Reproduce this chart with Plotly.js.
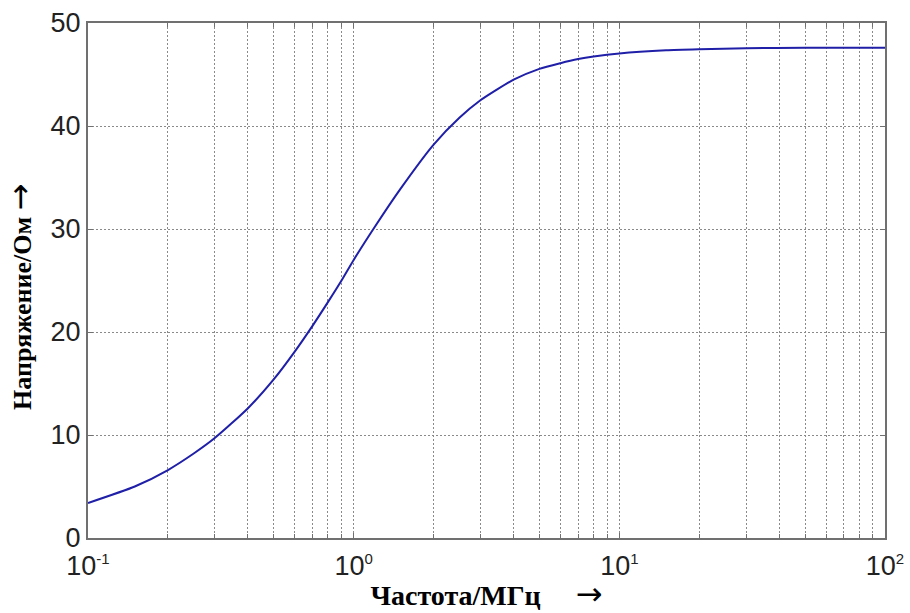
<!DOCTYPE html>
<html>
<head>
<meta charset="utf-8">
<script src="https://cdn.plot.ly/plotly-3.0.1.min.js"></script>
<style>html,body{margin:0;padding:0;background:#fff;}#chart{width:910px;height:613px;}</style>
</head>
<body>
<div id="chart"></div>
<script>
// Frequency, MHz
const freqMHz = [0.1, 0.15, 0.2, 0.25, 0.3, 0.4, 0.5, 0.6, 0.7, 0.8, 0.9, 1.0, 1.2, 1.5, 2.0, 2.5, 3.0, 4.0, 5.0, 6.0, 7.0, 8.0, 10, 15, 20, 30, 50, 100];
// Curve values (Напряжение/Ом)
const voltage = [3.4, 5.0, 6.6, 8.2, 9.7, 12.6, 15.4, 18.1, 20.6, 22.9, 25.0, 27.0, 30.2, 33.9, 38.2, 40.8, 42.5, 44.5, 45.55, 46.1, 46.5, 46.75, 47.05, 47.35, 47.45, 47.55, 47.6, 47.6];

// Tick positions and labels
const xTickVals = [0.1, 1, 10, 100];
const sup = s => '10<sup><span style="font-size:15px">' + s + '</span></sup>';
const xTickText = [sup('-1'), sup('0'), sup('1'), sup('2')];
const xMinorVals = [0.2,0.3,0.4,0.5,0.6,0.7,0.8,0.9,2,3,4,5,6,7,8,9,20,30,40,50,60,70,80,90];
const yTickVals = [0, 10, 20, 30, 40, 50];
const yTickText = ['0', '10', '20', '30', '40', '50'];

const arrow = '<span style="font-family:\'DejaVu Sans\';font-weight:normal;font-size:32px">→</span>';
const xTitle = 'Частота/МГц&nbsp;&nbsp;&nbsp;&nbsp;&nbsp;' + arrow;
const yTitle = 'Напряжение/Ом ' + arrow + '&nbsp;&nbsp;&nbsp;&nbsp;&nbsp;';

const trace = {
  x: freqMHz,
  y: voltage,
  type: 'scatter',
  mode: 'lines',
  line: {color: '#1f1fa8', width: 2, shape: 'spline', smoothing: 0.6},
  hoverinfo: 'x+y'
};

const gridColor = '#8a8a8a';
const gridDash = '1.5px,2.5px';
const axisCommon = {
  showline: true, linecolor: '#707070', linewidth: 2, mirror: 'allticks',
  ticks: 'inside', ticklen: 5, tickcolor: '#707070', tickwidth: 1,
  showgrid: true, gridcolor: gridColor, gridwidth: 1, griddash: gridDash,
  zeroline: false,
  tickfont: {family: 'Liberation Sans, Arial, sans-serif', size: 27, color: '#222'}
};
const titleFont = size => ({family: 'Liberation Serif, Times New Roman, serif', size: size, color: '#000', weight: 'bold'});

const layout = {
  width: 910, height: 613,
  margin: {l: 88, r: 25, t: 23, b: 75},
  paper_bgcolor: '#fff', plot_bgcolor: '#fff',
  showlegend: false,
  xaxis: Object.assign({}, axisCommon, {
    type: 'log', range: [-1, 2],
    tickmode: 'array', tickvals: xTickVals, ticktext: xTickText,
    ticklabelstandoff: 3,
    minor: {tickmode: 'array', tickvals: xMinorVals, ticks: 'inside', ticklen: 4, tickcolor: '#707070',
            showgrid: true, gridcolor: gridColor, gridwidth: 1, griddash: gridDash},
    title: {text: xTitle, font: titleFont(28), standoff: 7}
  }),
  yaxis: Object.assign({}, axisCommon, {
    range: [0, 50],
    tickmode: 'array', tickvals: yTickVals, ticktext: yTickText,
    title: {text: yTitle, font: titleFont(26), standoff: 11}
  })
};

Plotly.newPlot('chart', [trace], layout, {displayModeBar: false, staticPlot: true});
</script>
</body>
</html>
